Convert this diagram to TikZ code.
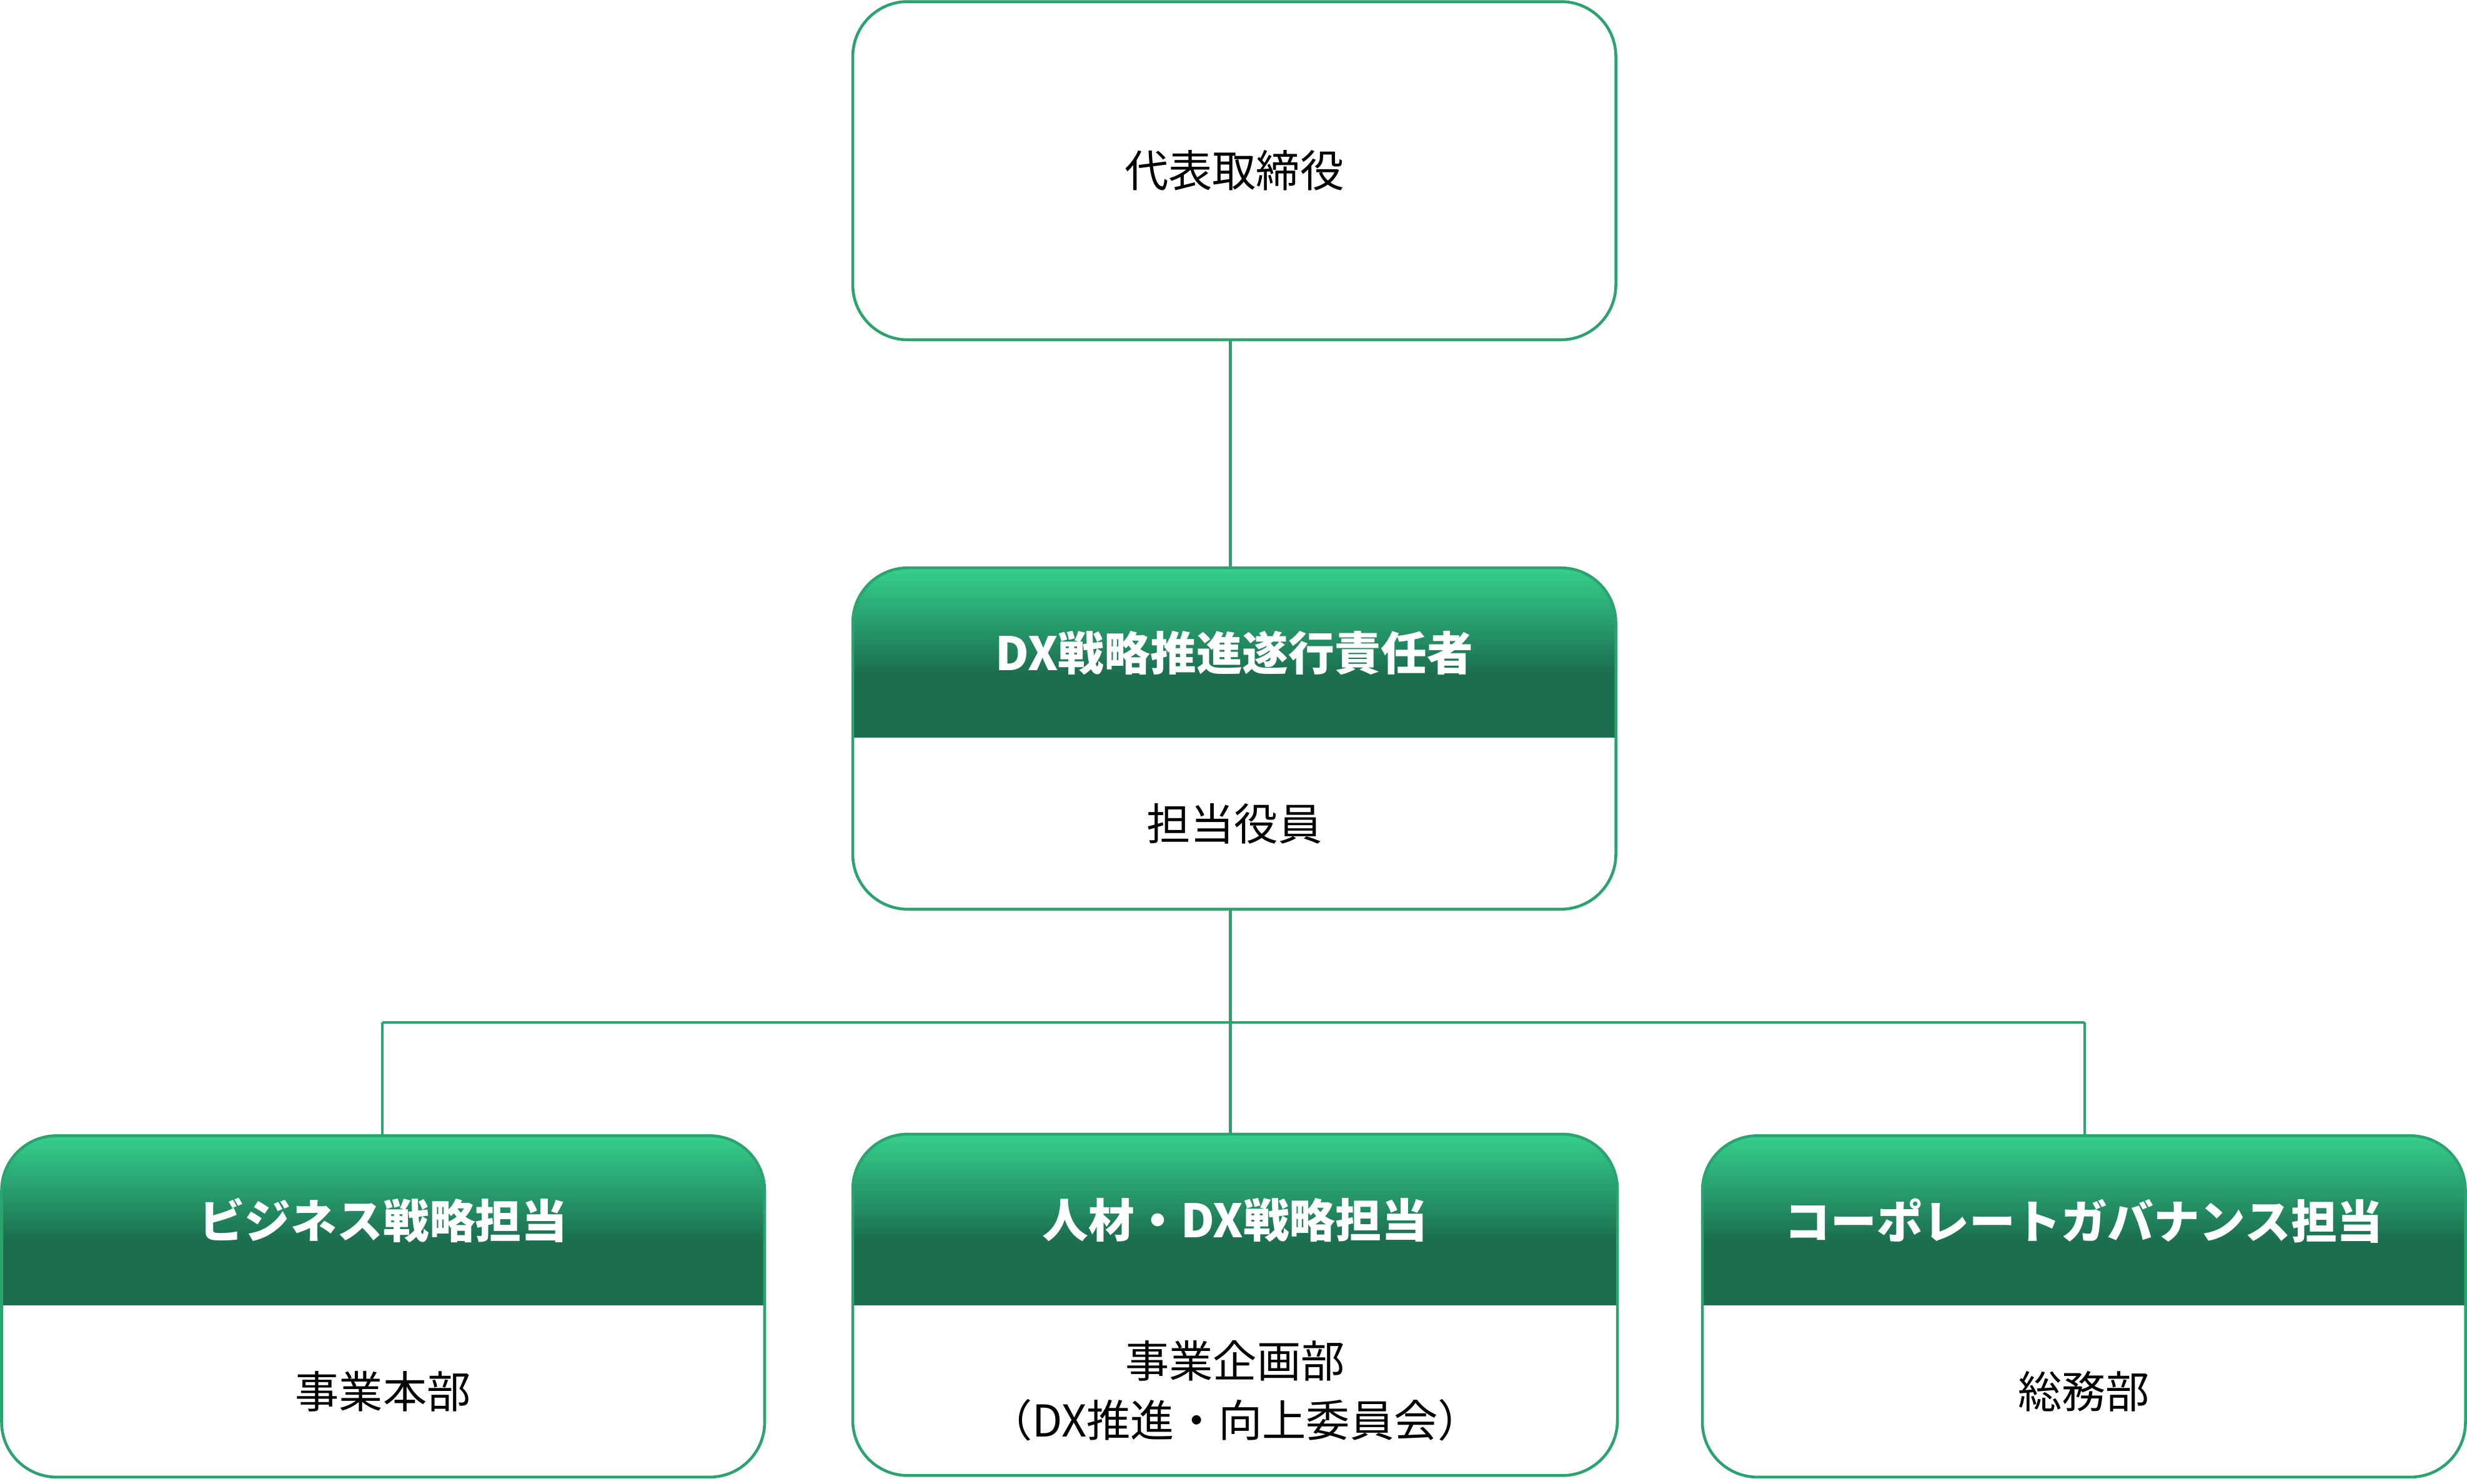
\documentclass[tikz,border=0pt]{standalone}
\usepackage{fontspec}
\setmainfont{Noto Sans CJK JP}
\usetikzlibrary{calc}
\definecolor{bord}{HTML}{2BA36E}
\definecolor{gtop}{HTML}{36CF8E}
\definecolor{gbot}{HTML}{1B6E4E}
\tikzset{
  boxshape/.style={draw=bord,line width=1.3pt,rounded corners=0.88cm},
  conn/.style={draw=bord,line width=1.3pt},
  headtxt/.style={text=white,font=\fontsize{21}{25}\selectfont\bfseries,align=center},
  bodytxt/.style={text=black,font=\fontsize{20}{27}\selectfont,align=center}
}
\newcommand\mkorgbox[8]{%
  % #1 name, #2 x1, #3 y1, #4 x2, #5 y2, #6 ybreak, #7 header, #8 body
  \begin{scope}
    \clip[rounded corners=0.88cm] (#2,#3) rectangle (#4,#5);
    \shade[top color=gtop,bottom color=gbot] (#2,#3) rectangle (#4,{#3+0.62*(#6-#3)});
    \fill[gbot] (#2,{#3+0.62*(#6-#3)-0.5}) rectangle (#4,#6);
  \end{scope}
  \node[boxshape,minimum width={(#4-#2)*0.025185cm},minimum height={(#5-#3)*0.025185cm},inner sep=0pt] (#1) at ({(#2+#4)/2},{(#3+#5)/2}) {};
  \node[headtxt] (#1h) at ({(#2+#4)/2},{(#3+#6)/2}) {#7};
  \node[bodytxt] (#1b) at ({(#2+#4)/2},{(#6+#5)/2}) {#8};
}
\begin{document}
\begin{tikzpicture}[x=0.025185cm,y=-0.025185cm]
\useasboundingbox (0,0) rectangle (1568,943.4);
% top
\node[boxshape,minimum width={485*0.025185cm},minimum height={215*0.025185cm},inner sep=0pt,bodytxt] (ceo) at (784.5,108.5) {代表取締役};
\mkorgbox{dx}{542}{361}{1027}{578}{469}{DX戦略推進遂行責任者}{担当役員}
\mkorgbox{bl}{1}{722}{486}{939}{830}{ビジネス戦略担当}{事業本部}
\mkorgbox{bm}{542}{721}{1028}{938}{830}{人材・DX戦略担当}{事業企画部\\（DX推進・向上委員会）}
\mkorgbox{br}{1082}{722}{1567}{939}{830}{コーポレートガバナンス担当}{総務部}
\coordinate (j) at (782,650);
\coordinate (jl) at (243,650);
\coordinate (jr) at (1325,650);
\draw[conn] (782,216) -- (782,361);
\draw[conn] (782,578) -- (782,721);
\draw[conn] (jl) -- (jr);
\draw[conn] (jl) -- (243,722);
\draw[conn] (jr) -- (1325,722);
\end{tikzpicture}
\end{document}
